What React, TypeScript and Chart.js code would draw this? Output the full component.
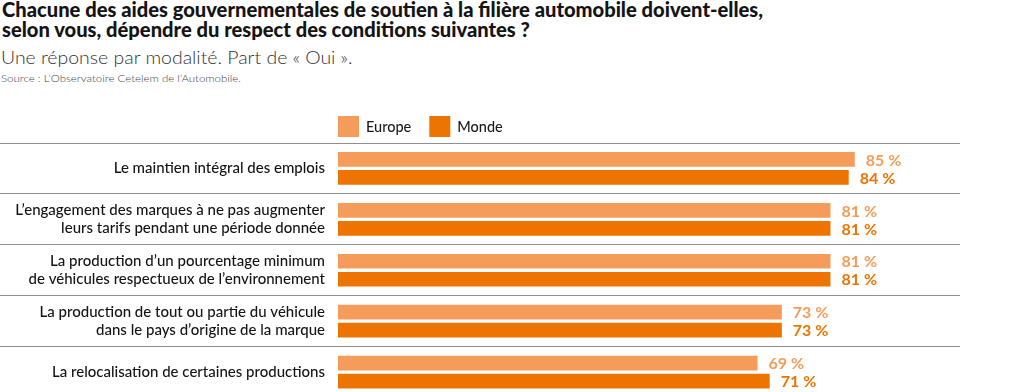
import React, { useEffect, useRef } from "react";
import { Chart, registerables } from "chart.js";

Chart.register(...registerables);

const titleLines = [
  "Chacune des aides gouvernementales de soutien à la filière automobile doivent-elles,",
  "selon vous, dépendre du respect des conditions suivantes ?",
];
const subtitle = "Une réponse par modalité. Part de «\u202FOui\u202F».";
const source = "Source : L’Observatoire Cetelem de l’Automobile.";

const categories: (string | string[])[] = [
  "Le maintien intégral des emplois",
  ["L’engagement des marques à ne pas augmenter", "leurs tarifs pendant une période donnée"],
  ["La production d’un pourcentage minimum", "de véhicules respectueux de l’environnement"],
  ["La production de tout ou partie du véhicule", "dans le pays d’origine de la marque"],
  "La relocalisation de certaines productions",
];
const seriesNames = ["Europe", "Monde"];
const europeValues = [85, 81, 81, 73, 69];
const mondeValues = [84, 81, 81, 73, 71];
const seriesColors = ["#F59C5A", "#EE7402"];

const FONT = "Lato, 'Open Sans', sans-serif";

let measureCtx: CanvasRenderingContext2D | null = null;
function measure(text: string, font: string): number {
  if (!measureCtx) measureCtx = document.createElement("canvas").getContext("2d");
  measureCtx!.font = font;
  return measureCtx!.measureText(text).width;
}

function FitLine(props: {
  text: string;
  top: number;
  left: number;
  size: number;
  weight: number;
  lineHeight: number;
  color: string;
  scale: number;
}) {
  const { text, top, left, size, weight, lineHeight, color, scale } = props;
  return (
    <div
      style={{
        position: "absolute",
        top,
        left,
        whiteSpace: "nowrap",
        fontFamily: FONT,
        fontSize: size,
        fontWeight: weight,
        lineHeight: lineHeight + "px",
        color,
        transform: `scaleX(${scale})`,
        transformOrigin: "left top",
      }}
    >
      {text}
    </div>
  );
}

const decorPlugin = {
  id: "decor",
  beforeDatasetsDraw(chart: any) {
    const { ctx, chartArea } = chart;
    const y = chart.scales.y;
    const band = y.getPixelForValue(1) - y.getPixelForValue(0);
    ctx.save();
    ctx.strokeStyle = "#8f8f8f";
    ctx.lineWidth = 1;
    for (let i = 0; i <= categories.length; i++) {
      const py = Math.floor(y.getPixelForValue(i) - band / 2) + 0.5;
      ctx.beginPath();
      ctx.moveTo(0, py);
      ctx.lineTo(chartArea.right + 14, py);
      ctx.stroke();
    }
    ctx.restore();
  },
  afterDatasetsDraw(chart: any) {
    const { ctx, chartArea } = chart;
    ctx.save();
    // value labels
    ctx.font = `bold 16px ${FONT}`;
    ctx.textAlign = "left";
    ctx.textBaseline = "middle";
    chart.data.datasets.forEach((ds: any, di: number) => {
      const meta = chart.getDatasetMeta(di);
      ctx.fillStyle = ds.backgroundColor;
      meta.data.forEach((bar: any, i: number) => {
        ctx.fillText(`${ds.data[i]} %`, bar.x + 11, bar.y + 1);
      });
    });
    // legend
    ctx.font = `500 14.5px ${FONT}`;
    let x = chartArea.left;
    const top = chartArea.top - 27;
    chart.data.datasets.forEach((ds: any) => {
      ctx.fillStyle = ds.backgroundColor;
      ctx.fillRect(x, top, 21, 21);
      ctx.fillStyle = "#1a1a1a";
      ctx.fillText(ds.label, x + 28, top + 11);
      x += 28 + ctx.measureText(ds.label).width + 18;
    });
    ctx.restore();
  },
};

function BarChart() {
  const ref = useRef<HTMLCanvasElement>(null);
  useEffect(() => {
    if (!ref.current) return;
    const chart = new Chart(ref.current, {
      type: "bar",
      data: {
        labels: categories,
        datasets: [
          {
            label: seriesNames[0],
            data: europeValues,
            backgroundColor: seriesColors[0],
            borderWidth: 0,
            categoryPercentage: 0.707,
            barPercentage: 0.817,
          },
          {
            label: seriesNames[1],
            data: mondeValues,
            backgroundColor: seriesColors[1],
            borderWidth: 0,
            categoryPercentage: 0.707,
            barPercentage: 0.817,
          },
        ],
      },
      options: {
        responsive: false,
        animation: false,
        indexAxis: "y",
        devicePixelRatio: 1,
        layout: { padding: { top: 43, bottom: 2.5, left: 0, right: 74 } },
        plugins: {
          legend: { display: false },
          tooltip: { enabled: false },
          title: { display: false },
        },
        scales: {
          x: { display: false, min: 0, max: 100 },
          y: {
            afterFit(scale: any) {
              scale.width = 338;
              scale.paddingTop = 0;
              scale.paddingBottom = 0;
            },
            grid: { display: false, drawTicks: false },
            border: { display: false },
            ticks: {
              font: { family: FONT, size: 15, weight: 500, lineHeight: 1.2 },
              color: "#141414",
              padding: 13,
            },
          },
        },
      },
      plugins: [decorPlugin],
    } as any);
    return () => chart.destroy();
  }, []);
  return (
    <canvas
      ref={ref}
      width={1020}
      height={300}
      style={{ position: "absolute", top: 100, left: 0, width: 1020, height: 300, display: "block" }}
    />
  );
}

export default function App() {
  useEffect(() => {
    document.body.style.margin = "0";
    document.body.style.overflow = "hidden";
  }, []);
  const titleFont = `900 21px ${FONT}`;
  const titleScale = 761 / measure(titleLines[0], titleFont);
  const subFont = `300 18px ${FONT}`;
  const subScale = 352 / measure(subtitle, subFont);
  const srcFont = `300 10px ${FONT}`;
  const srcScale = 240 / measure(source, srcFont);
  return (
    <div style={{ position: "relative", width: 1020, height: 392, overflow: "hidden", background: "#fff" }}>
      <FitLine text={titleLines[0]} top={-1} left={2} size={21} weight={900} lineHeight={20} color="#141414" scale={titleScale} />
      <FitLine text={titleLines[1]} top={19} left={2} size={21} weight={900} lineHeight={20} color="#141414" scale={titleScale} />
      <FitLine text={subtitle} top={47} left={1} size={18} weight={300} lineHeight={20} color="#333333" scale={subScale} />
      <FitLine text={source} top={72} left={1} size={10} weight={300} lineHeight={12} color="#444444" scale={srcScale} />
      <BarChart />
    </div>
  );
}
